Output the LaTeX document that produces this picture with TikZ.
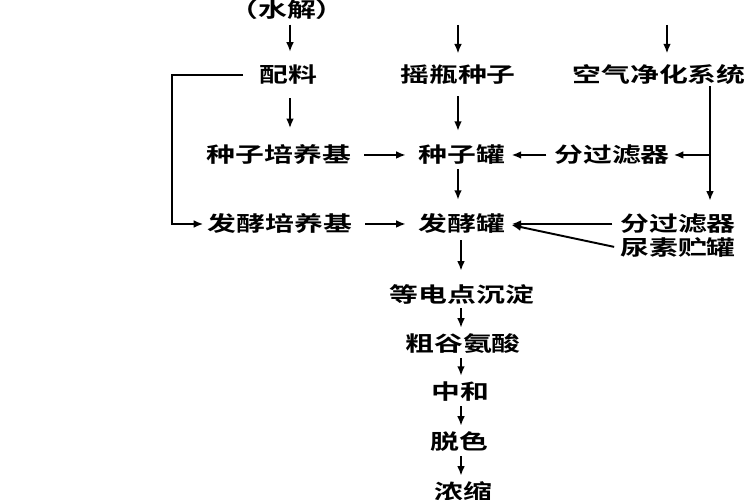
\documentclass[tikz,border=0pt]{standalone}
\usepackage{fontspec}
\newfontfamily\cjk[FakeStretch=1.38]{Noto Sans CJK SC Bold}
\usepackage{tikz}
\usetikzlibrary{positioning, calc}
\usetikzlibrary{arrows.meta}

\begin{document}
\begin{tikzpicture}[->,>={Latex[length=5.5pt,width=4.4pt]},draw=black!100,line width=1.1pt]
	\useasboundingbox (0,0) rectangle (15cm,10cm);
	\def \rowzeroht{9.8cm}
	\def \rowoneht{8.5cm}
	\def \rowtwoht{6.9cm}
	\def \rowthreeht{5.52cm}
	\def \rowfourht{5.04cm}
	\def \colmid{9.22cm}
	\tikzstyle{s-node}=[font=\cjk\fontsize{11.9}{13}\selectfont,inner sep=0pt]
	\tikzstyle{down}=[shorten <=2pt,shorten >=3pt]

	% raw materials
	\node[s-node] (shuijie) at (5.74cm,\rowzeroht) {（水解）};
	\node[s-node] (peiliao) at (5.76cm,\rowoneht) {配料};
	\node[s-node] (zz-pyj) at (5.58cm,\rowtwoht) {种子培养基};
	\node[s-node] (fj-pyj) at (5.6cm,\rowthreeht) {发酵培养基};

	% seed line
	\node[s-node] (yp-zz) at (9.16cm,\rowoneht) {摇瓶种子};
	\node[s-node] (zz-g) at (9.24cm,\rowtwoht) {种子罐};
	\node[s-node] (fj-g) at (9.24cm,\rowthreeht) {发酵罐};

	% air line
	\node[s-node] (kq-jh) at (13.18cm,\rowoneht) {空气净化系统};
	\node[s-node] (glq-a) at (12.24cm,\rowtwoht) {分过滤器};
	\node[s-node] (glq-b) at (13.56cm,\rowthreeht) {分过滤器};
	\node[s-node] (ns-g) at (13.56cm,\rowfourht) {尿素贮罐};

	% extraction
	\node[s-node] (ddd-cd) at (9.24cm,4.12cm) {等电点沉淀};
	\node[s-node] (c-gas) at (9.26cm,3.12cm) {粗谷氨酸};
	\node[s-node] (zh) at (9.2cm,2.16cm) {中和};
	\node[s-node] (ts) at (9.18cm,1.16cm) {脱色};
	\node[s-node] (ns) at (9.26cm,0.16cm) {浓缩};

	% free ends
	\coordinate (top-b) at (9.16cm,9.5cm);
	\coordinate (top-c) at (13.34cm,9.5cm);
	\coordinate (loop) at (3.44cm,\rowoneht);
	\coordinate (branch) at (14.2cm,\rowtwoht);

	% top row
	\path (shuijie.south -| 5.8cm,0) edge[shorten <=2pt,shorten >=7pt] (peiliao.north -| 5.8cm,0)
		(top-b) edge[shorten >=6pt] (yp-zz.north -| top-b)
		(top-c) edge[shorten >=6pt] (kq-jh.north -| top-c);

	% columns
	\path (peiliao.south -| 5.8cm,0) edge[shorten <=7pt,shorten >=9pt] (zz-pyj.north -| 5.8cm,0)
		(yp-zz.south) edge[shorten <=6pt,shorten >=7.5pt] (yp-zz.south |- zz-g.north)
		(zz-g.south -| yp-zz) edge[shorten <=2pt,shorten >=7.5pt] (fj-g.north -| yp-zz)
		(fj-g.south -| \colmid,0) edge[shorten <=3pt,shorten >=7pt] (ddd-cd.north -| \colmid,0)
		(ddd-cd.south -| \colmid,0) edge[down] (c-gas.north -| \colmid,0)
		(c-gas.south -| \colmid,0) edge[down] (zh.north -| \colmid,0)
		(zh.south -| \colmid,0) edge[down] (ts.north -| \colmid,0)
		(ts.south -| \colmid,0) edge[down] (ns.north -| \colmid,0);

	% into the tanks
	\path (zz-pyj) edge[shorten <=6.8pt,shorten >=6.8pt] (zz-g)
		(fj-pyj) edge[shorten <=6.8pt,shorten >=6.8pt] (fj-g)
		(glq-a) edge[shorten <=4pt,shorten >=3pt] (zz-g)
		(glq-b.west) edge[shorten <=4pt,shorten >=3pt] (fj-g.east)
		(ns-g.west) edge[shorten <=3pt,shorten >=3pt] (fj-g.east);

	% air branch
	\draw[-] (branch |- kq-jh.south) -- (branch);
	\draw[shorten >=7pt] (branch) -- (branch |- glq-b.north);
	\draw[shorten >=1.7pt] (branch) -- (glq-a);

	% medium loop
	\draw[shorten <=8.5pt,shorten >=2pt] (peiliao) -- (loop) |- (fj-pyj);

\end{tikzpicture}
\end{document}
